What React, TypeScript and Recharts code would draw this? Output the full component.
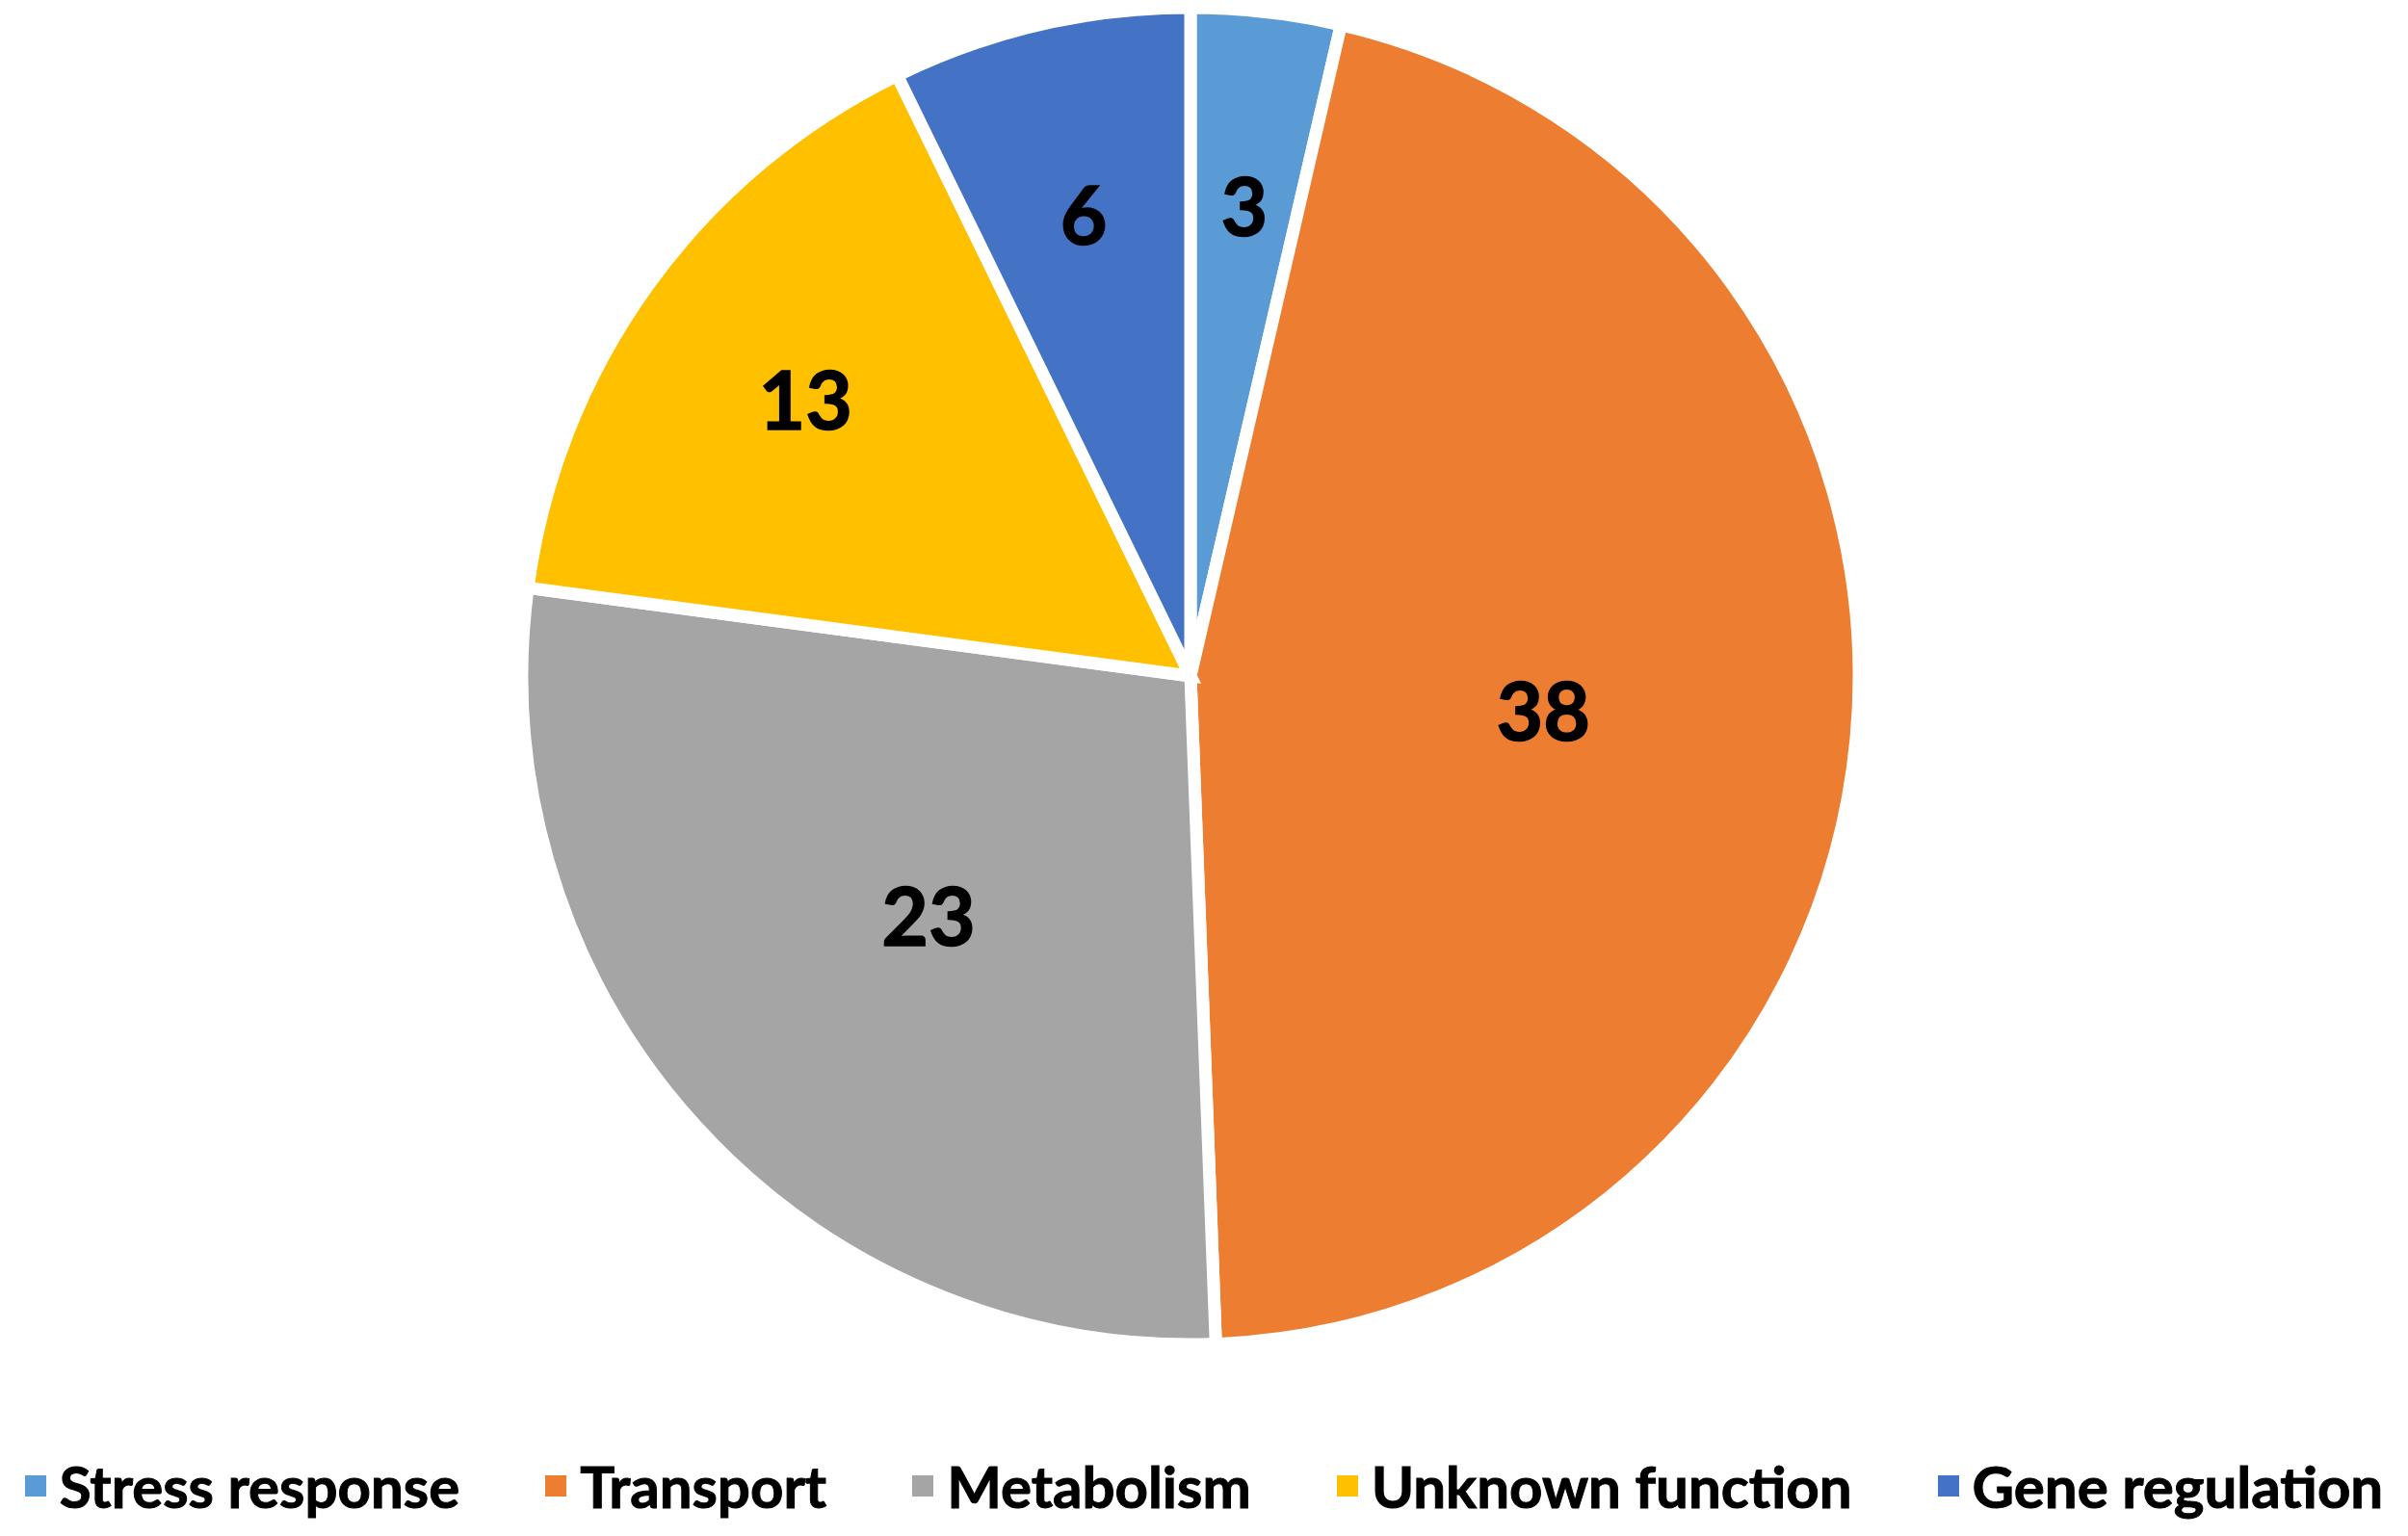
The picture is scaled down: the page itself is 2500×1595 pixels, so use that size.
import React from "react";
import { Legend, Pie, PieChart } from "recharts";

const categories = ["Stress response", "Transport", "Metabolism", "Unknown function", "Gene regulation"];
const counts = [3, 38, 23, 13, 6];
const colors = ["#5B9BD5", "#ED7D31", "#A5A5A5", "#FFC000", "#4472C4"];

const data = categories.map((name, i) => ({ name, value: counts[i], fill: colors[i] }));

const RADIAN = Math.PI / 180;

function renderLabel(props: any) {
  const { cx, cy, midAngle, outerRadius, percent, value } = props;
  // big slices get their number closer to the centre
  const r = outerRadius * (percent > 0.2 ? 0.53 : 0.71);
  const x = cx + r * Math.cos(-midAngle * RADIAN);
  const y = cy + r * Math.sin(-midAngle * RADIAN);
  return (
    <text
      x={x}
      y={y}
      textAnchor="middle"
      dominantBaseline="central"
      fill="#000"
      stroke="#000"
      strokeWidth={1.5}
      fontSize={84}
      fontWeight={700}
      fontFamily="Lato, 'Open Sans', sans-serif"
    >
      {value}
    </text>
  );
}

function LegendContent() {
  return (
    <div
      style={{
        display: "flex",
        justifyContent: "center",
        alignItems: "center",
        gap: 89,
        fontFamily: "Lato, 'Open Sans', sans-serif",
        fontWeight: 700,
        fontSize: 60,
        color: "#000",
        WebkitTextStroke: "1px #000",
      }}
    >
      {data.map((d) => (
        <div key={d.name} style={{ display: "flex", alignItems: "center" }}>
          <span style={{ width: 22, height: 22, background: d.fill, marginRight: 14, display: "inline-block" }} />
          <span>{d.name}</span>
        </div>
      ))}
    </div>
  );
}

export default function App() {
  return (
    <div style={{ position: "absolute", left: 0, top: 0, width: 2500, height: 1595, background: "#fff" }}>
      <PieChart width={2500} height={1595}>
        <Pie
          data={data}
          dataKey="value"
          nameKey="name"
          cx={1231}
          cy={697}
          outerRadius={694}
          startAngle={90}
          endAngle={-270}
          stroke="#fff"
          strokeWidth={13}
          label={renderLabel}
          labelLine={false}
          isAnimationActive={false}
        />
        <Legend
          content={<LegendContent />}
          wrapperStyle={{ position: "absolute", left: 0, top: 1507, width: 2500 }}
        />
      </PieChart>
    </div>
  );
}
